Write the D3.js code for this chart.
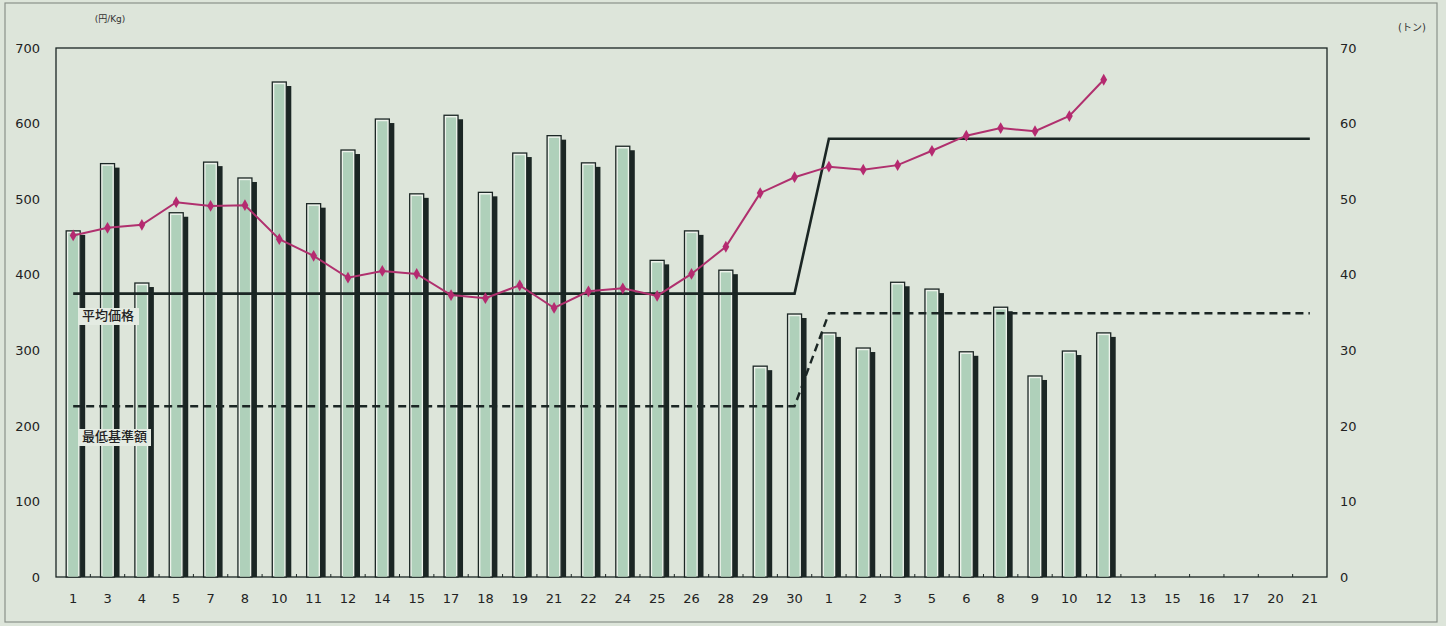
<!DOCTYPE html>
<html><head><meta charset="utf-8">
<script src="https://cdn.jsdelivr.net/npm/d3@7"></script>
<style>
html,body{margin:0;padding:0;background:#dde5da;}
svg{display:block;}
text{font-family:"DejaVu Sans","Noto Sans CJK JP",sans-serif;}
</style></head><body>
<svg id="c" width="1446" height="626"></svg>
<script>
const categories = ["1","3","4","5","7","8","10","11","12","14","15","17","18","19","21","22","24","25","26","28","29","30","1","2","3","5","6","8","9","10","12","13","15","16","17","20","21"];
const volume = [45.8,54.7,38.9,48.2,54.9,52.8,65.5,49.4,56.5,60.6,50.7,61.1,50.9,56.1,58.4,54.8,57.0,41.9,45.8,40.6,27.9,34.8,32.3,30.3,39.0,38.1,29.8,35.7,26.6,29.9,32.3];
const price = [452,462,466,496,491,492,447,425,396,405,401,373,369,386,356,378,382,372,401,437,508,529,543,539,545,564,584,594,590,610,658];
const avgPrice = [375,375,375,375,375,375,375,375,375,375,375,375,375,375,375,375,375,375,375,375,375,375,580,580,580,580,580,580,580,580,580,580,580,580,580,580,580];
const minPrice = [226,226,226,226,226,226,226,226,226,226,226,226,226,226,226,226,226,226,226,226,226,226,349,349,349,349,349,349,349,349,349,349,349,349,349,349,349];
const leftTicks = [0,100,200,300,400,500,600,700];
const rightTicks = [0,10,20,30,40,50,60,70];

const svg = d3.select("#c");
const L = 56, R = 1327, T = 48, B = 577;
const dark = "#1b2624";

svg.append("rect").attr("x",5).attr("y",3).attr("width",1432).attr("height",619)
  .attr("fill","#dde5da").attr("stroke","#8a918a").attr("stroke-width",1.2);

const x = d3.scaleBand().domain(d3.range(categories.length)).range([L,R]).padding(0);
const yL = d3.scaleLinear().domain([0,700]).range([B,T]);
const yR = d3.scaleLinear().domain([0,70]).range([B,T]);
const cx = i => x(i) + x.bandwidth()/2;

// frame
svg.append("rect").attr("x",L).attr("y",T).attr("width",R-L).attr("height",B-T)
  .attr("fill","none").attr("stroke",dark).attr("stroke-width",1.3);

// bottom small ticks
svg.append("g").selectAll("line").data(d3.range(1,categories.length)).join("line")
  .attr("x1",i=>x(i)).attr("x2",i=>x(i)).attr("y1",B).attr("y2",B-3)
  .attr("stroke",dark).attr("stroke-width",1);

// axes labels
const axL = d3.axisLeft(yL).tickValues(leftTicks).tickSize(0).tickPadding(16);
const gL = svg.append("g").attr("transform",`translate(${L},0)`).call(axL);
gL.select(".domain").remove();
gL.selectAll("text").attr("font-size",13).attr("fill","#222");

const axR = d3.axisRight(yR).tickValues(rightTicks).tickSize(0).tickPadding(13);
const gR = svg.append("g").attr("transform",`translate(${R},0)`).call(axR);
gR.select(".domain").remove();
gR.selectAll("text").attr("font-size",13).attr("fill","#222");

const axB = d3.axisBottom(x).tickFormat(i=>categories[i]).tickSize(0).tickPadding(17);
const gB = svg.append("g").attr("transform",`translate(0,${B})`).call(axB);
gB.select(".domain").remove();
gB.selectAll("text").attr("font-size",13).attr("fill","#222");

svg.append("text").attr("x",110).attr("y",22).attr("text-anchor","middle").attr("font-size",9).attr("fill","#333").text("(円/Kg)");
svg.append("text").attr("x",1412).attr("y",31).attr("text-anchor","middle").attr("font-size",10).attr("fill","#333").text("(トン)");

// bars
const bars = svg.append("g");
volume.forEach((v,i)=>{
  const c = cx(i), top = yR(v);
  bars.append("rect").attr("x",c+7).attr("y",top+4).attr("width",5).attr("height",B-top-4).attr("fill",dark);
  bars.append("rect").attr("x",c-7).attr("y",top).attr("width",14).attr("height",B-top)
    .attr("fill","#eef3ec").attr("stroke",dark).attr("stroke-width",1.3);
  bars.append("rect").attr("x",c-5).attr("y",top+2.2).attr("width",10).attr("height",B-top-2.5)
    .attr("fill","#afd0ba");
});

// reference lines
const line = d3.line().x((d,i)=>cx(i)).y(d=>yL(d));
svg.append("path").datum(avgPrice).attr("d",line).attr("fill","none").attr("stroke",dark).attr("stroke-width",2.6);
svg.append("path").datum(minPrice).attr("d",line).attr("fill","none").attr("stroke",dark).attr("stroke-width",2.4).attr("stroke-dasharray","8,5");

// labels
function label(txt, xx, yy, w){
  svg.append("rect").attr("x",xx-3).attr("y",yy-12).attr("width",w).attr("height",17).attr("fill","#e4ebe2");
  svg.append("text").attr("x",xx).attr("y",yy).attr("font-size",13).attr("font-weight",500).attr("fill","#222")
    .attr("font-family","Noto Sans CJK JP").text(txt);
}
label("平均価格", 82, 320, 60);
label("最低基準額", 82, 441, 72);

// price line
svg.append("path").datum(price).attr("d",line).attr("fill","none").attr("stroke","#b0306e").attr("stroke-width",2);
svg.append("g").selectAll("path").data(price).join("path")
  .attr("transform",(d,i)=>`translate(${cx(i)},${yL(d)})`)
  .attr("d",d3.symbol(d3.symbolDiamond,40)).attr("fill","#b52a70");
</script></body></html>
